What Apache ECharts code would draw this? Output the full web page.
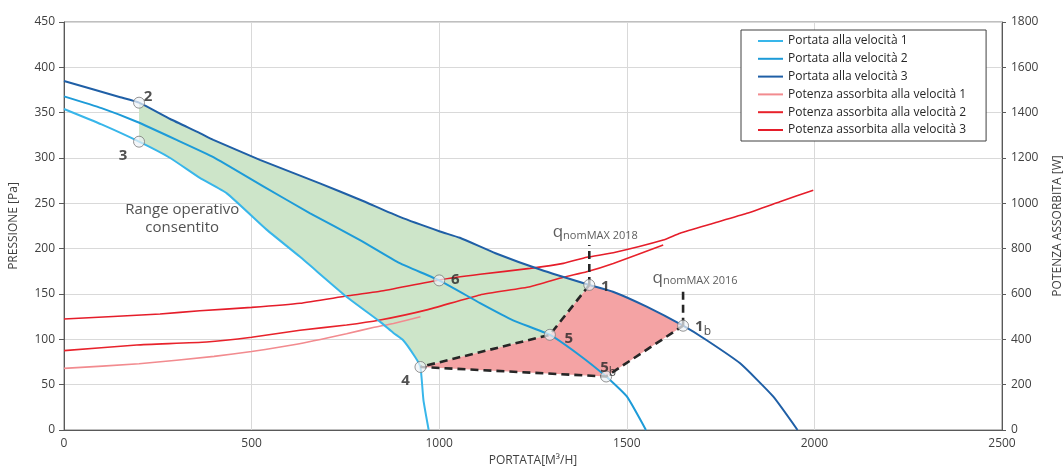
<!DOCTYPE html>
<html>
<head>
<meta charset="utf-8">
<script src="https://cdn.jsdelivr.net/npm/echarts@6/dist/echarts.min.js"></script>
<style>html,body{margin:0;padding:0;background:#fff}#c{width:1064px;height:466px}</style>
</head>
<body>
<div id="c"></div>
<script>
// ---- data (flow in m3/h, pressure in Pa, power in W) ----
const xTicks = [0, 500, 1000, 1500, 2000, 2500];
const pressureTicks = [0, 50, 100, 150, 200, 250, 300, 350, 400, 450];
const powerTicks = [0, 200, 400, 600, 800, 1000, 1200, 1400, 1600, 1800];

const seriesNames = [
  'Portata alla velocità 1', 'Portata alla velocità 2', 'Portata alla velocità 3',
  'Potenza assorbita alla velocità 1', 'Potenza assorbita alla velocità 2', 'Potenza assorbita alla velocità 3'
];

const flowSpeed1 = [[0,354],[100,337],[200,318],[283,300],[362,278],[434,261],[540,221],[629,191],[753,147],[842,119.5],[878,107],[904,99],[935,81],[950,69.5],[958,33],[972,0]];
const flowSpeed2 = [[0,368],[100,355],[194,340],[300,320],[398,301],[530,269],[656,239],[789,209.5],[895,184],[1000,165],[1109,140],[1197,121],[1295,105],[1366,85],[1445,59],[1500,37],[1551,0]];
const flowSpeed3 = [[0,385],[150,367],[200,361],[283,343],[362,327.5],[398,320],[522,298],[682,272],[789,254],[895,235],[1002,219],[1055,212],[1150,195],[1269,177],[1400,160],[1463,152.5],[1553,136],[1650,115],[1713,99],[1802,73.5],[1890,37],[1955,0]];

const powerSpeed1 = [[0,272],[200,292],[400,325],[500,346],[620,378],[753,425],[824,452],[878,470],[950,500]];
const powerSpeed2 = [[0,350],[194,375],[380,388],[500,409],[629,440],[753,463],[842,485],[967,530],[1109,596],[1242,632],[1331,674],[1393,698],[1464,735],[1597,816]];
const powerSpeed3 = [[0,490],[256,512],[362,526],[500,541],[629,559],[753,591],[842,612],[1000,662],[1109,687],[1242,713],[1331,735],[1393,762],[1464,782],[1597,838],[1642,868],[1731,912],[1820,956],[1908,1007],[1997,1058]];

// operating points [flow, pressure]
const pointNames = ['1', '1b', '2', '3', '4', '5', '5b', '6'];
const pointValues = [[1400,160],[1650,115],[200,361],[200,318],[950,69.5],[1295,105],[1445,59],[1000,165]];

// nominal max flow markers [flow, pressure bottom, pressure top]
const qnom2018 = [1400, 160, 204];
const qnom2016 = [1650, 115, 154];
const rangeLabelPos = [315, 233];

// ---- build ----
const P = {};
pointNames.forEach((n, i) => P[n] = pointValues[i]);

const greenPoly = [P['2']]
  .concat(flowSpeed3.filter(d => d[0] > 200 && d[0] < 1400))
  .concat([P['1'], P['5'], P['4']])
  .concat(flowSpeed1.filter(d => d[0] > 200 && d[0] < 950).reverse())
  .concat([P['3']]);
const redPoly = [P['1']]
  .concat(flowSpeed3.filter(d => d[0] > 1400 && d[0] < 1650))
  .concat([P['1b'], P['5b'], P['4'], P['5']]);
const dashedPath = [P['1'], P['5'], P['4'], P['5b'], P['1b']];

const FONT = '"Open Sans", "Liberation Sans", sans-serif';
const TXT = '#404040';

function polySeries(poly, fill) {
  return {
    type: 'custom', silent: true, z: 1,
    renderItem: (params, api) => ({
      type: 'polygon',
      shape: { points: poly.map(c => api.coord(c)) },
      style: { fill: fill }
    }),
    data: [poly[0]]
  };
}
function lineSeries(name, data, color, width, yIdx) {
  return {
    name, type: 'line', data, yAxisIndex: yIdx, symbol: 'none', smooth: 0.15,
    lineStyle: { color, width }, itemStyle: { color }, z: 3, silent: true
  };
}
const labelOffsets = {
  '1': [16, 0], '1b': [20, 0], '2': [9, -7], '3': [-16, 13], '4': [-15, 12],
  '5': [19, 2], '5b': [2, -10], '6': [16, -2]
};

const option = {
  animation: false,
  textStyle: { fontFamily: FONT },
  grid: { left: 64, right: 62, top: 22, bottom: 36, outerBoundsMode: 'none', containLabel: false,
          show: true, borderColor: '#7f7f7f', borderWidth: 1 },
  legend: {
    data: seriesNames, orient: 'vertical', left: 741, top: 30,
    itemWidth: 25, itemHeight: 12, itemGap: 5.8,
    padding: [5, 20, 5, 16],
    backgroundColor: '#fff', borderColor: '#404040', borderWidth: 1,
    itemStyle: { opacity: 0 },
    lineStyle: { width: 2 },
    textStyle: { fontFamily: FONT, fontSize: 12, color: '#262626' },
    selectedMode: false
  },
  xAxis: {
    type: 'value', min: 0, max: 2500, interval: 500,
    name: 'PORTATA[M³/H]', nameLocation: 'middle', nameGap: 21,
    nameTextStyle: { color: TXT, fontSize: 12, fontFamily: FONT },
    axisLine: { show: true, lineStyle: { color: '#595959', width: 1 } },
    axisTick: { show: false },
    axisLabel: { color: TXT, fontSize: 12, margin: 8, fontFamily: FONT,
      formatter: v => xTicks.includes(v) ? String(v) : '' },
    splitLine: { show: true, lineStyle: { color: '#d9d9d9' } }
  },
  yAxis: [
    {
      type: 'value', min: 0, max: 450, interval: 50,
      name: 'PRESSIONE [Pa]', nameLocation: 'middle', nameGap: 44,
      nameTextStyle: { color: TXT, fontSize: 12, fontFamily: FONT },
      axisLine: { show: true, lineStyle: { color: '#595959' } },
      axisTick: { show: true, length: 5, lineStyle: { color: '#595959' } },
      axisLabel: { color: TXT, fontSize: 12, margin: 9, fontFamily: FONT,
        formatter: v => pressureTicks.includes(v) ? String(v) : '' },
      splitLine: { show: true, lineStyle: { color: '#d9d9d9' } }
    },
    {
      type: 'value', min: 0, max: 1800, interval: 200, position: 'right',
      name: 'POTENZA ASSORBITA [W]', nameLocation: 'middle', nameGap: 50,
      nameTextStyle: { color: TXT, fontSize: 12, fontFamily: FONT },
      axisLine: { show: true, lineStyle: { color: '#595959' } },
      axisTick: { show: true, length: 4, lineStyle: { color: '#595959' } },
      axisLabel: { color: TXT, fontSize: 12, margin: 9, fontFamily: FONT,
        formatter: v => powerTicks.includes(v) ? String(v) : '' },
      splitLine: { show: false }
    }
  ],
  series: [
    polySeries(greenPoly, '#cde5c9'),
    polySeries(redPoly, '#f4a3a4'),
    lineSeries(seriesNames[3], powerSpeed1, '#f28b8f', 1.6, 1),
    lineSeries(seriesNames[4], powerSpeed2, '#e8222b', 1.6, 1),
    lineSeries(seriesNames[5], powerSpeed3, '#e51d2a', 1.6, 1),
    lineSeries(seriesNames[0], flowSpeed1, '#38b6ea', 2, 0),
    lineSeries(seriesNames[1], flowSpeed2, '#1d9bd8', 2, 0),
    lineSeries(seriesNames[2], flowSpeed3, '#1f5fa6', 2, 0),
    {
      type: 'line', data: dashedPath, symbol: 'none', z: 4, silent: true,
      lineStyle: { color: '#262626', width: 2.6, type: [8, 5] }
    },
    {
      type: 'line', data: [[qnom2018[0], qnom2018[1]], [qnom2018[0], qnom2018[2]]], symbol: 'none', z: 4, silent: true,
      lineStyle: { color: '#262626', width: 2.6, type: [8, 5] }
    },
    {
      type: 'line', data: [[qnom2016[0], qnom2016[1]], [qnom2016[0], qnom2016[2]]], symbol: 'none', z: 4, silent: true,
      lineStyle: { color: '#262626', width: 2.6, type: [8, 5] }
    },
    {
      type: 'scatter', z: 5, silent: true,
      data: [
        { value: [qnom2018[0], qnom2018[2]], label: { formatter: '{q|q}{s|nomMAX 2018}', offset: [6, 0] } },
        { value: [qnom2016[0], qnom2016[2]], label: { formatter: '{q|q}{s|nomMAX 2016}', offset: [12, 0] } }
      ],
      symbolSize: 0,
      label: {
        show: true, position: 'top', distance: 4, color: TXT,
        rich: {
          q: { fontSize: 17, color: '#333', fontFamily: FONT, verticalAlign: 'bottom', lineHeight: 20 },
          s: { fontSize: 11, color: '#333', fontFamily: FONT, verticalAlign: 'bottom', lineHeight: 14 }
        }
      }
    },
    {
      type: 'scatter', z: 5, silent: true,
      data: [{ value: rangeLabelPos }],
      symbolSize: 0,
      label: {
        show: true, position: 'inside', formatter: 'Range operativo\nconsentito',
        fontSize: 15, lineHeight: 18, color: '#262626', fontFamily: FONT, align: 'center'
      }
    },
    {
      type: 'scatter', z: 6, silent: true,
      symbol: 'circle', symbolSize: 11,
      itemStyle: { color: 'rgba(238,242,247,0.9)', borderColor: '#7a7a7a', borderWidth: 1 },
      data: pointNames.map((n, i) => ({
        name: n, value: pointValues[i],
        label: {
          show: true, position: 'inside', offset: labelOffsets[n],
          formatter: n.length > 1 ? '{m|' + n[0] + '}{b|' + n[1] + '}' : '{m|' + n + '}',
          rich: {
            m: { fontSize: 15, fontWeight: 'bold', color: '#262626', fontFamily: FONT, lineHeight: 18, verticalAlign: 'bottom' },
            b: { fontSize: 12, color: '#262626', fontFamily: FONT, lineHeight: 12, verticalAlign: 'bottom', padding: [0, 0, -3, 0] }
          }
        }
      }))
    }
  ]
};
const chart = echarts.init(document.getElementById('c'), null, { renderer: 'canvas' });
chart.setOption(option);
</script>
</body>
</html>
